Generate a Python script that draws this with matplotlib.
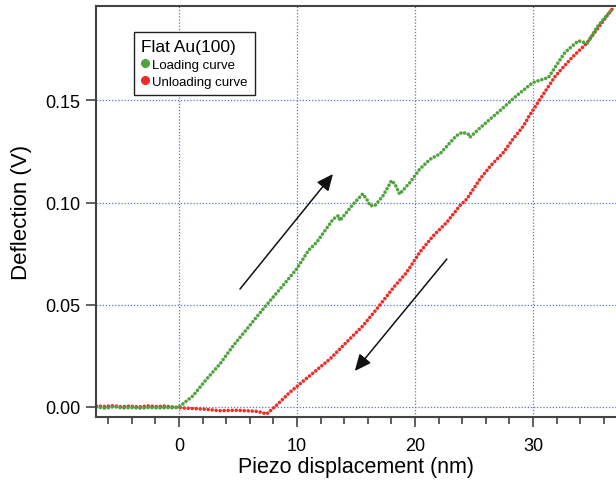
import matplotlib.pyplot as plt

plt.rcParams['font.family'] = ['Liberation Sans', 'DejaVu Sans']

# loading curve (green)
load_x = [-7.0, -6.2, -5.5, -4.8, -4.0, -3.2, -2.5, -1.8, -1.0, -0.4, 0.0,
          1.2, 2.35, 3.47, 4.6, 5.74, 7.14, 8.56, 9.97, 10.96, 11.67, 13.08,
          13.5, 13.64, 14.77, 15.56, 15.9, 16.2, 16.6, 17.3, 18.0, 18.3, 18.7,
          19.6, 20.4, 21.3, 22.1, 23.5, 24.0, 24.5, 24.66, 25.4, 26.4, 27.2,
          28.6, 30.0, 31.3, 32.7, 33.84, 34.6, 35.4, 36.7]
load_y = [0.0, -0.0006, 0.0002, -0.0005, -0.0003, -0.0006, -0.0002, -0.0005,
          -0.0003, -0.0005, 0.0,
          0.0055, 0.0137, 0.021, 0.030, 0.038, 0.048, 0.0577, 0.0675, 0.0765,
          0.0806, 0.092, 0.0936, 0.0912, 0.0993, 0.1042, 0.1018, 0.0985,
          0.0985, 0.1034, 0.1107, 0.1091, 0.1042, 0.110, 0.1164, 0.1213,
          0.1238, 0.1327, 0.1344, 0.1336, 0.132, 0.136, 0.141, 0.145, 0.1523,
          0.1588, 0.1612, 0.1735, 0.1792, 0.178, 0.1857, 0.1947]

# unloading curve (red)
unload_x = [-7.0, -6.3, -5.6, -4.9, -4.2, -3.4, -2.6, -1.9, -1.2, -0.5, 0.66,
            2.0, 3.47, 5.0, 6.7, 7.43, 8.3, 9.4, 10.5, 12.8, 14.2, 15.6,
            16.75, 18.2, 19.3, 20.4, 21.55, 22.7, 23.8, 24.4, 25.5, 26.4, 27.5,
            28.3, 29.2, 29.6, 30.6, 31.9, 33.3, 34.55, 35.96, 36.7]
unload_y = [0.0005, 0.0002, 0.0006, 0.0001, 0.0004, 0.0, 0.0005, 0.0002,
            0.0004, 0.0, -0.0006, -0.0010, -0.0018, -0.0016, -0.0022, -0.0034,
            0.001, 0.0072, 0.0125, 0.0235, 0.0317, 0.0398, 0.0479, 0.0586,
            0.0659, 0.0757, 0.0838, 0.0904, 0.0985, 0.1018, 0.1115, 0.118,
            0.1246, 0.1311, 0.1376, 0.1417, 0.1507, 0.162, 0.171, 0.178, 0.189,
            0.1947]

green = '#4ea33c'
red = '#ee2b25'
grid_c = '#5f70d6'

fig = plt.figure(figsize=(6.16, 4.81), dpi=100)
ax = fig.add_axes([0.1558, 0.131, 0.8442, 0.8544])

dots = (0, (0.01, 1.1))
ax.plot(unload_x, unload_y, color=red, lw=2.6, ls=dots, dash_capstyle='round')
ax.plot(load_x, load_y, color=green, lw=2.6, ls=dots, dash_capstyle='round')

# legend handles
ax.plot([], [], 'o', color=green, ms=5.5, label='Loading curve')
ax.plot([], [], 'o', color=red, ms=5.5, label='Unloading curve')
leg = ax.legend(loc='upper left', bbox_to_anchor=(0.073, 0.937), title='Flat Au(100)',
                fontsize=9.5, title_fontsize=12.5, handlelength=0.6, handletextpad=0.25,
                borderpad=0.55, labelspacing=0.35, fancybox=False, framealpha=1,
                edgecolor='#222222', borderaxespad=0)
leg.get_frame().set_linewidth(1.0)
leg._legend_box.align = 'left'

# arrows
arrow_kw = dict(arrowstyle='-|>,head_length=1.0,head_width=0.45', color='#111111',
                lw=1.1, shrinkA=0, shrinkB=0)
ax.annotate('', xy=(13.05, 0.114), xytext=(5.17, 0.0577), arrowprops=arrow_kw)
ax.annotate('', xy=(14.9, 0.0176), xytext=(22.7, 0.0724), arrowprops=arrow_kw)

ax.set_xlim(-7.03, 37.03)
ax.set_ylim(-0.0049, 0.1962)
ax.set_xticks([0, 10, 20, 30])
ax.set_xticks(range(-6, 37, 2), minor=True)
ax.set_yticks([0.0, 0.05, 0.10, 0.15])
ax.set_yticklabels(['0.00', '0.05', '0.10', '0.15'])
ax.grid(True, which='major', color=grid_c, ls=(0, (1, 1.5)), lw=0.9)

ax.tick_params(axis='both', which='major', direction='out', length=7.5, width=1.2,
               labelsize=13, color='#444444')
ax.tick_params(axis='x', which='major', pad=7)
ax.tick_params(axis='y', which='major', pad=3.5)
ax.tick_params(axis='x', which='minor', direction='out', length=5, width=1.2,
               color='#444444')
for s in ['left', 'bottom', 'top']:
    ax.spines[s].set_color('#444444')
    ax.spines[s].set_linewidth(1.5)
ax.spines['right'].set_visible(False)

ax.set_xlabel('Piezo displacement (nm)', fontsize=15.5, labelpad=1.5)
ax.set_ylabel('Deflection (V)', fontsize=16, labelpad=10)

plt.savefig('out.png', dpi=100)
